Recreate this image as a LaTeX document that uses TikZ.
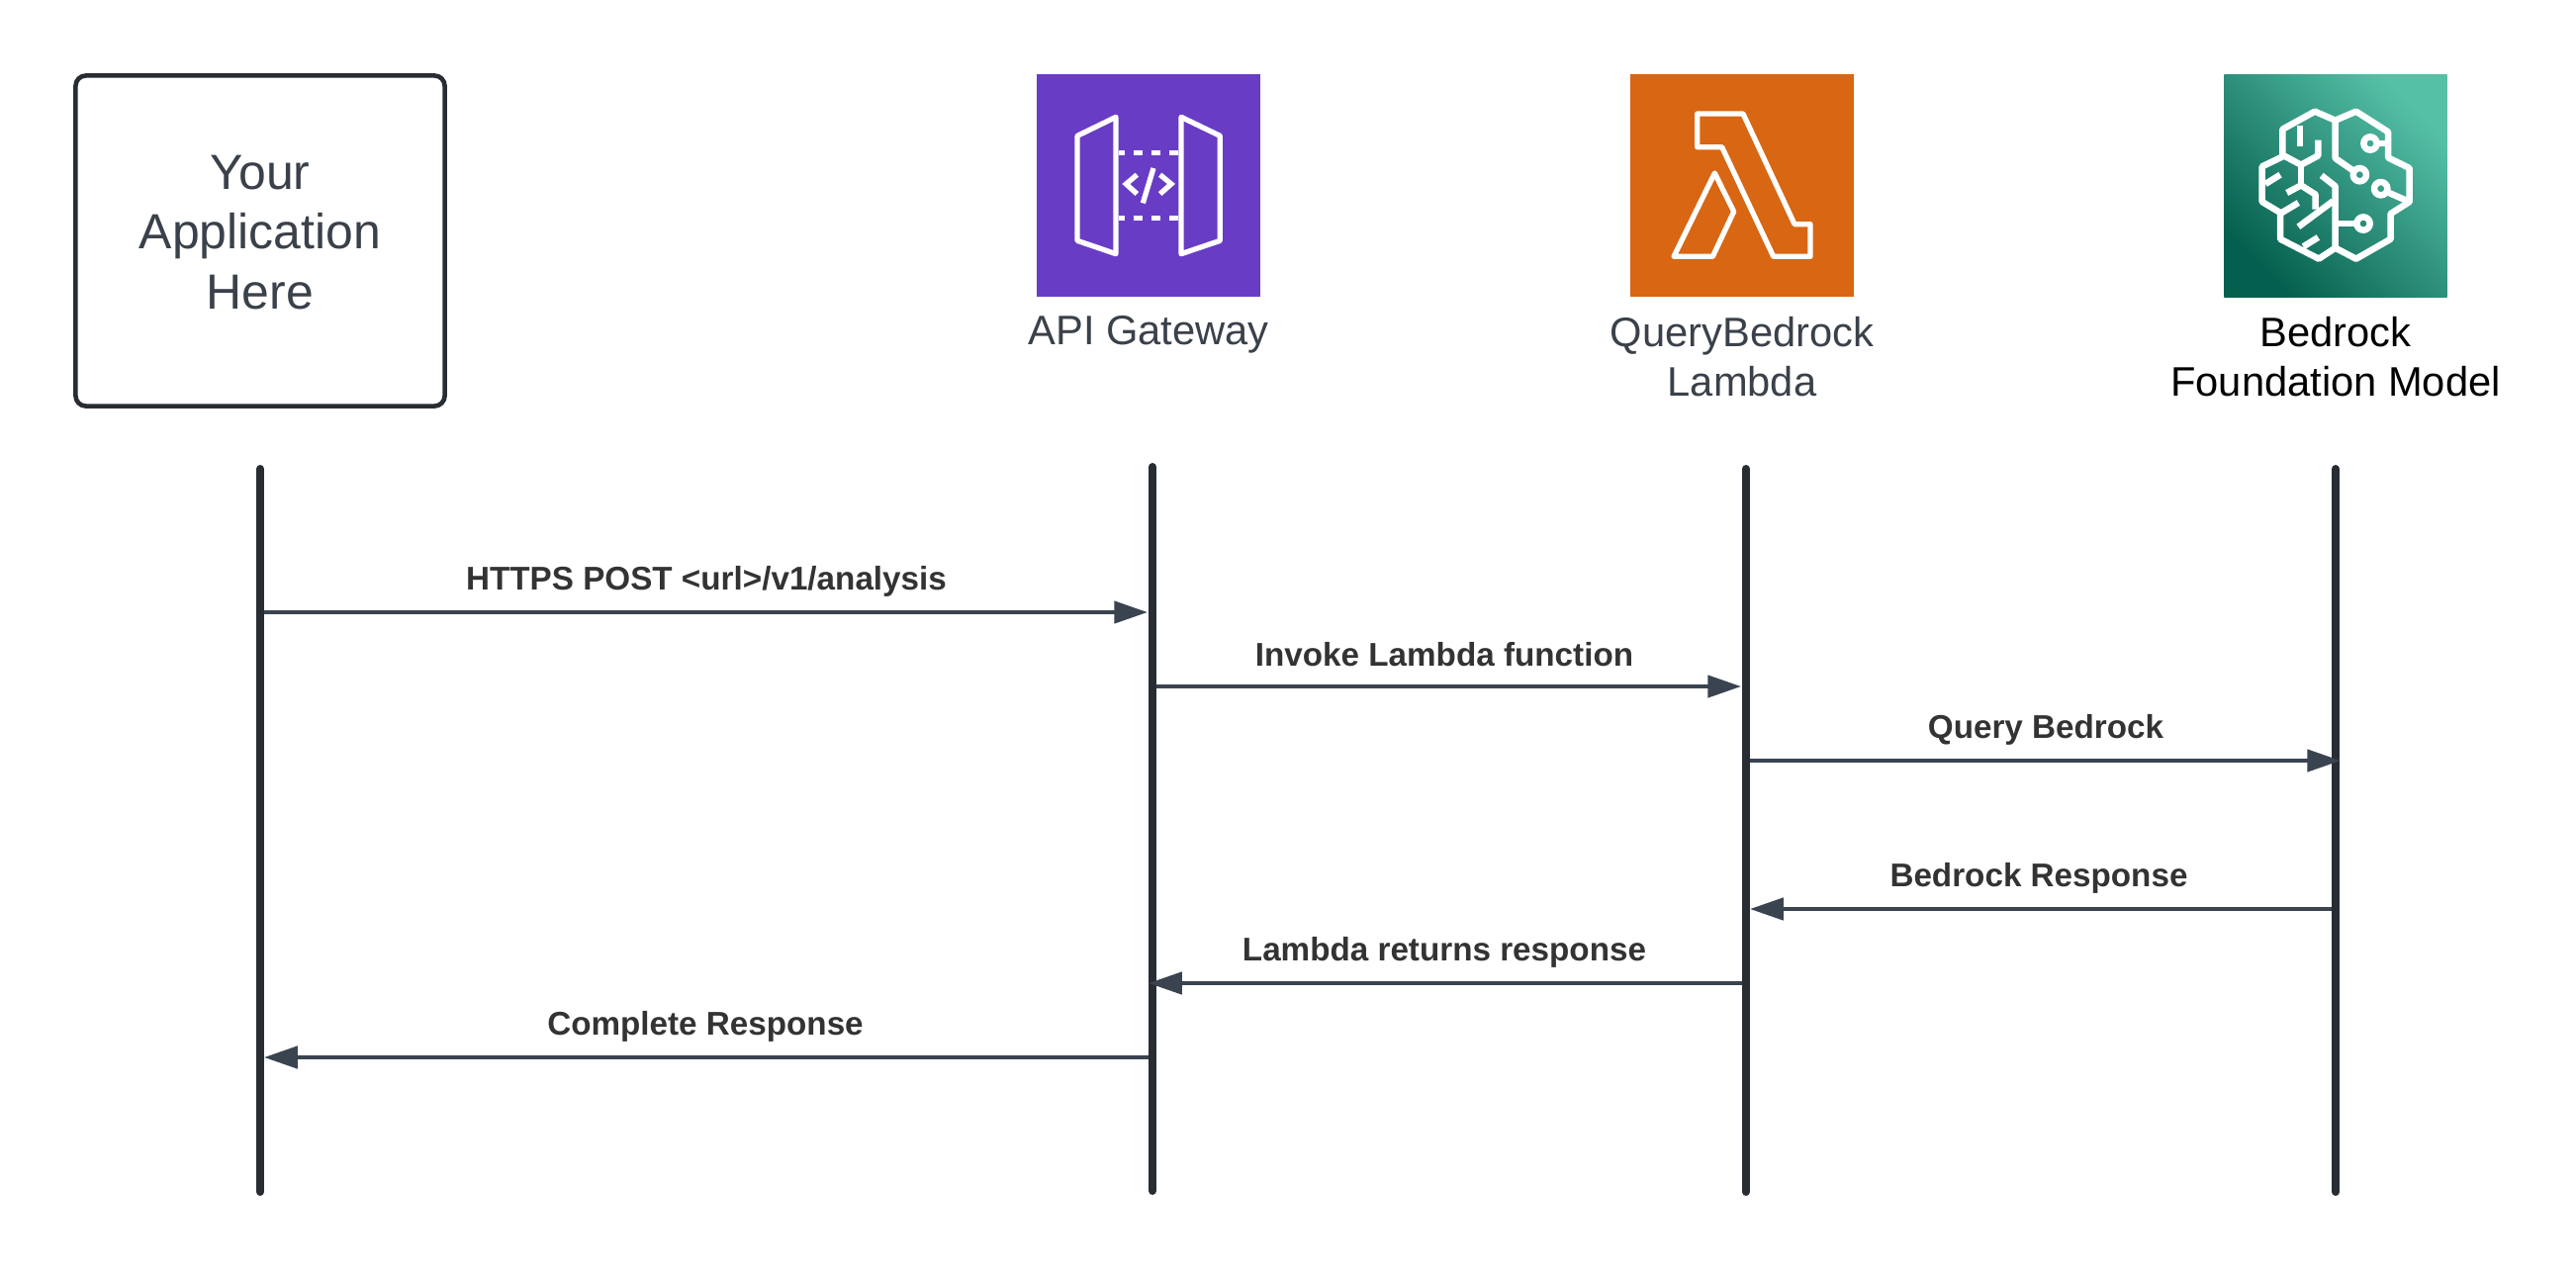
\documentclass[tikz,border=0pt]{standalone}
\usepackage{fontspec}
\setmainfont{Liberation Sans}
\usetikzlibrary{arrows.meta}

\definecolor{slatetext}{HTML}{3A414A}
\definecolor{slateline}{HTML}{3A4350}
\definecolor{darkline}{HTML}{282C33}
\definecolor{apipurple}{HTML}{693CC5}
\definecolor{lambdaorange}{HTML}{D86613}
\definecolor{bedrockdark}{HTML}{055F4E}
\definecolor{bedrocklight}{HTML}{56C0A7}

\tikzset{appbox/.style = {shape = rectangle,
                                    draw = darkline,
                                    line width = 1.3pt,
                                    rounded corners = 3pt,
                                    minimum width = 3.73cm,
                                    minimum height = 3.34cm},
         applabel/.style = {align = center,
                                    inner sep = 0pt,
                                    text = slatetext,
                                    font = \fontsize{14.2}{17.1}\selectfont},
         iconbox/.style = {shape = rectangle,
                                    inner sep = 0pt,
                                    outer sep = 0pt,
                                    minimum size = 2.25cm},
         iconline/.style = {draw = white,
                                    line width = 1.5pt,
                                    line join = round},
         brainline/.style = {iconline,
                                    line width = 1.85pt},
         iconlabel/.style = {align = center,
                                    inner sep = 0pt,
                                    text = slatetext,
                                    font = \fontsize{11.85}{14.2}\selectfont},
         lifeline/.style = {draw = darkline,
                                    line width = 2.28pt,
                                    line cap = round},
         msgline/.style = {draw = slateline,
                                    line width = 1.14pt,
                                    -{Triangle[length=9.6pt,width=6.3pt,fill=slateline]}},
         msglabel/.style = {inner sep = 0pt,
                                    text = black!80,
                                    font = \fontsize{9.45}{11}\selectfont\bfseries}}

\begin{document}
\begin{tikzpicture}[x=0.01cm, y=-0.01cm]
		\useasboundingbox (0,0) rectangle (2604,1284);

		% top row
		\node[appbox] (app) at (263,243.5) {};
		\node[applabel] (apptext) at (263,235) {Your\\Application\\Here};
		\node[iconbox, fill=apipurple] (gateway) at (1161,187.5) {};
		\node[iconbox, fill=lambdaorange] (lambda) at (1761,187.5) {};
		\node[iconbox, left color=bedrockdark, right color=bedrocklight, shading angle=135] (bedrock) at (2361,188) {};

		\node[iconlabel] (gatewaylabel) at (1161,338) {API Gateway};
		\node[iconlabel] (lambdalabel) at (1761,361) {QueryBedrock\\Lambda};
		\node[iconlabel, text=black] (bedrocklabel) at (2361,361) {Bedrock\\Foundation Model};

		% gateway icon
		\begin{scope}[shift={(1030,60)}, scale=1/3]
			\draw[iconline] (177,232) -- (294,175) -- (294,590) -- (177,550) -- cycle;
			\draw[iconline] (492,175) -- (610,232) -- (610,550) -- (492,590) -- cycle;
			\draw[iconline] (303,284) -- (322,284) (349,284) -- (376,284) (403,284) -- (430,284) (457,284) -- (484,284);
			\draw[iconline] (303,482) -- (322,482) (349,482) -- (376,482) (403,482) -- (430,482) (457,482) -- (484,482);
			\draw[iconline, line join=miter] (358,350) -- (325,378) -- (358,408);
			\draw[iconline, line join=miter] (428,350) -- (462,378) -- (428,408);
			\draw[iconline] (408,330) -- (376,436);
		\end{scope}

		% lambda icon
		\begin{scope}[shift={(1630,60)}, scale=1/3]
			\draw[iconline] (257,165) -- (396,165) -- (552,500) -- (600,500) -- (600,598) -- (488,598) -- (332,266) -- (257,266) -- cycle;
			\draw[iconline] (310,345) -- (368,462) -- (304,598) -- (186,598) -- cycle;
		\end{scope}

		% bedrock icon
		\begin{scope}[shift={(2230,60)}, scale=1/3]
			\draw[brainline] (392,185) -- (330,158) -- (232,212) -- (232,295) -- (170,325) -- (170,432) -- (225,465) -- (225,545) -- (342,605) -- (392,572) -- (455,605) -- (560,545) -- (560,468) -- (617,432) -- (617,330) -- (552,298) -- (552,220) -- (455,158) -- cycle;
			\draw[brainline] (392,185) -- (392,300) -- (447,338);
			\draw[brainline] (350,352) -- (392,385) -- (392,572);
			\draw[brainline] (466,350) circle (20);
			\draw[brainline] (498,255) circle (20);
			\draw[brainline] (530,392) circle (20);
			\draw[brainline] (477,498) circle (20);
			\draw[brainline] (518,255) -- (552,255);
			\draw[brainline] (555,405) -- (617,432);
			\draw[brainline] (392,498) -- (457,498);
			\draw[brainline] (285,200) -- (285,265);
			\draw[brainline] (340,245) -- (340,292) -- (288,320) -- (232,290);
			\draw[brainline] (288,320) -- (288,382);
			\draw[brainline] (245,405) -- (288,382) -- (332,410) -- (332,455);
			\draw[brainline] (385,430) -- (280,508);
			\draw[brainline] (225,350) -- (180,378);
			\draw[brainline] (280,435) -- (225,468);
			\draw[brainline] (340,540) -- (295,568);
		\end{scope}

		% lifelines
		\coordinate (appTop) at (263,474);
		\coordinate (appEnd) at (263,1205);
		\coordinate (gatewayTop) at (1165,472);
		\coordinate (gatewayEnd) at (1165,1204);
		\coordinate (lambdaTop) at (1765,474);
		\coordinate (lambdaEnd) at (1765,1205);
		\coordinate (bedrockTop) at (2361,474);
		\coordinate (bedrockEnd) at (2361,1205);
		\path (appTop) edge[lifeline] (appEnd);
		\path (gatewayTop) edge[lifeline] (gatewayEnd);
		\path (lambdaTop) edge[lifeline] (lambdaEnd);
		\path (bedrockTop) edge[lifeline] (bedrockEnd);

		% request messages
		\coordinate (m1a) at (267,619);
		\coordinate (m1b) at (1160,619);
		\coordinate (m2a) at (1169,694);
		\coordinate (m2b) at (1760,694);
		\coordinate (m3a) at (1769,769);
		\coordinate (m3b) at (2366,769);
		\node[msglabel] (m1label) at (714,588) {HTTPS POST <url>/v1/analysis};
		\node[msglabel] (m2label) at (1460,661.5) {Invoke Lambda function};
		\node[msglabel] (m3label) at (2068,738) {Query Bedrock};
		\path (m1a) edge[msgline] (m1b);
		\path (m2a) edge[msgline] (m2b);
		\path (m3a) edge[msgline] (m3b);

		% response messages
		\coordinate (m4a) at (2357,919);
		\coordinate (m4b) at (1769,919);
		\coordinate (m5a) at (1761,994);
		\coordinate (m5b) at (1161,994);
		\coordinate (m6a) at (1161,1069);
		\coordinate (m6b) at (267,1069);
		\node[msglabel] (m4label) at (2061,888) {Bedrock Response};
		\node[msglabel] (m5label) at (1460,963) {Lambda returns response};
		\node[msglabel] (m6label) at (713,1038) {Complete Response};
		\path (m4a) edge[msgline] (m4b);
		\path (m5a) edge[msgline] (m5b);
		\path (m6a) edge[msgline] (m6b);
	\end{tikzpicture}
\end{document}
